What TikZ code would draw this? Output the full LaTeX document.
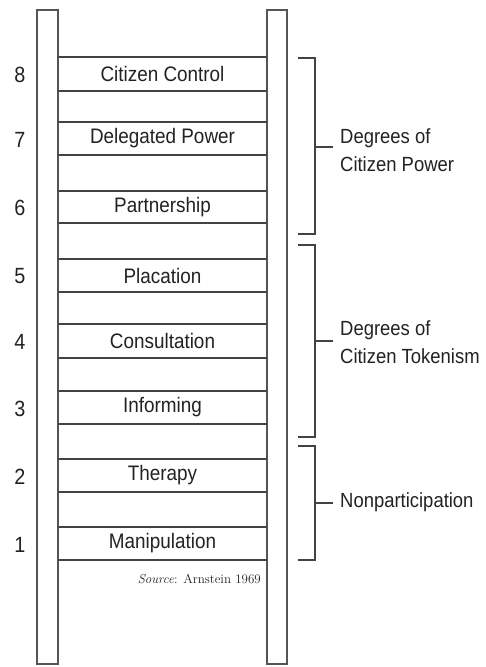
\documentclass[tikz,border=0pt]{standalone}
\usepackage{fontspec}
\setmainfont[FakeStretch=0.9]{Liberation Sans}
\newfontfamily\srcfont{Latin Modern Roman}
\definecolor{ink}{HTML}{222222}
\definecolor{rail}{HTML}{555555}
\begin{document}
\begin{tikzpicture}[x=1pt,y=-1pt,
  railbox/.style={draw=rail,line width=1.8pt},
  rungline/.style={draw=ink!85,line width=2pt},
  bracketline/.style={draw=ink!85,line width=1.8pt},
  rungtext/.style={font=\fontsize{21}{24}\selectfont,text=ink,inner sep=0pt,anchor=center},
  numtext/.style={font=\fontsize{22}{26}\selectfont,text=ink,inner sep=0pt,anchor=center},
  sidetext/.style={font=\fontsize{20.5}{28}\selectfont,text=ink,inner sep=0pt,anchor=west,align=left}]
\useasboundingbox (0,0) rectangle (486,667);
% rails
\draw[railbox] (37,10) rectangle (58,664);
\draw[railbox] (267,10) rectangle (287,664);
% rungs
\foreach \t/\b/\n/\lab in {57/91/8/Citizen Control,122/155/7/Delegated Power,191/223/6/Partnership,259/292/5/Placation,324/358/4/Consultation,391/424/3/Informing,459/492/2/Therapy,527/560/1/Manipulation}{
  \draw[rungline] (58,\t) -- (267,\t);
  \draw[rungline] (58,\b) -- (267,\b);
  \node[rungtext] (r\n) at (162.5,{(\t+\b)/2}) {\lab};
  \node[numtext] (n\n) at (20,{(\t+\b)/2+1}) {\n};
}
\node[font=\srcfont\fontsize{13}{15}\selectfont,text=ink,anchor=base east,inner sep=0pt] (src) at (261,583) {\textit{Source}: Arnstein 1969};
% brackets
\coordinate (b1t) at (298,58); \coordinate (b1b) at (298,234);
\coordinate (b2t) at (298,245); \coordinate (b2b) at (298,437);
\coordinate (b3t) at (298,446); \coordinate (b3b) at (298,560);
\draw[bracketline] (b1t) -- ++(17,0) |- (b1b);
\draw[bracketline] (b2t) -- ++(17,0) |- (b2b);
\draw[bracketline] (b3t) -- ++(17,0) |- (b3b);
\coordinate (m1) at (315,147); \coordinate (m2) at (315,341); \coordinate (m3) at (315,503);
\node[sidetext] (t1) at (340,150) {Degrees of\\Citizen Power};
\node[sidetext] (t2) at (340,342) {Degrees of\\Citizen Tokenism};
\node[sidetext] (t3) at (340,502) {Nonparticipation};
\draw[bracketline] (m1) -- (333,147);
\draw[bracketline] (m2) -- (333,341);
\draw[bracketline] (m3) -- (333,503);
\end{tikzpicture}
\end{document}
